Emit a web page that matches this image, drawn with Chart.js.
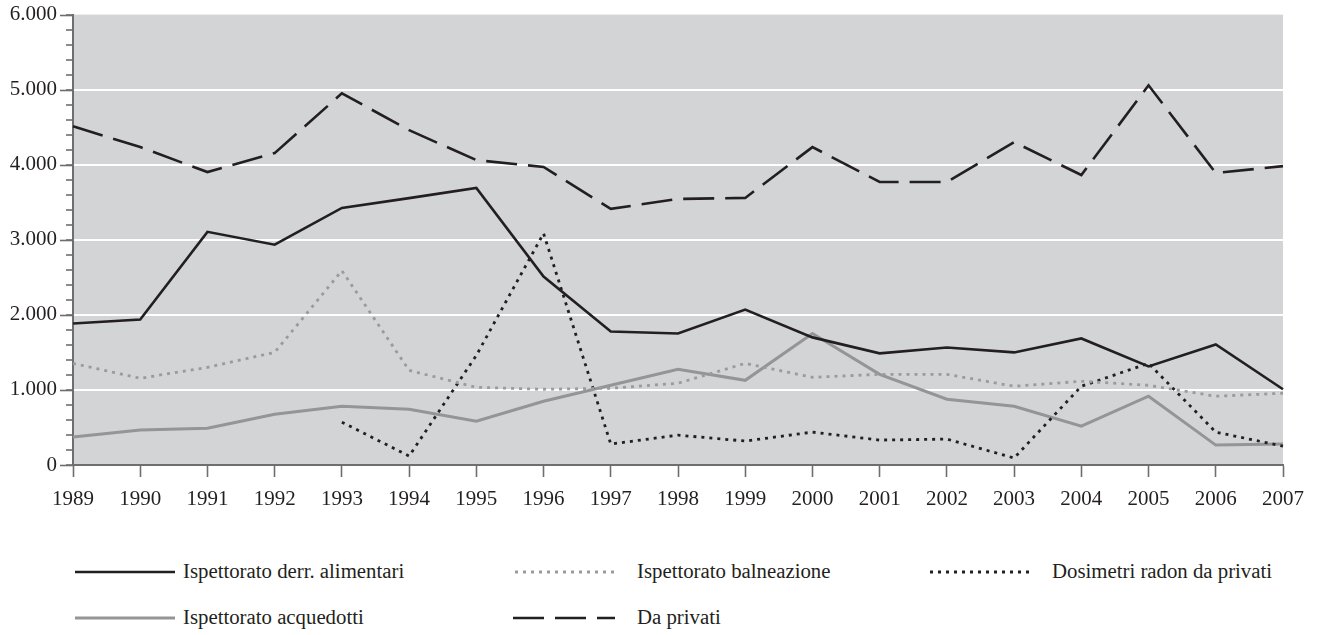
<!DOCTYPE html>
<html>
<head>
<meta charset="utf-8">
<script src="https://cdn.jsdelivr.net/npm/chart.js@4"></script>
<style>
  html, body { margin: 0; padding: 0; background: #ffffff; }
  #wrap { position: relative; width: 1321px; height: 635px; overflow: hidden; }
  #chartBox { position: absolute; left: 0; top: -7px; width: 1321px; height: 537px; }
  .lg { position: absolute; font-family: "Liberation Serif", "Times New Roman", serif; font-size: 20.8px; color: #231f20; white-space: nowrap; line-height: 22px; }
  .sw { position: absolute; }
</style>
</head>
<body>
<div id="wrap">
  <div id="chartBox"><canvas id="c" width="1321" height="537"></canvas></div>
  <div id="legend"></div>
</div>
<script>
const years = ['1989','1990','1991','1992','1993','1994','1995','1996','1997','1998','1999','2000','2001','2002','2003','2004','2005','2006','2007'];
const derrAlimentari = [1885,1938,3106,2934,3425,3555,3690,2510,1779,1752,2071,1700,1487,1566,1500,1686,1314,1606,1009];
const balneazione    = [1354,1155,1301,1500,2589,1261,1035,1009,1022,1089,1354,1168,1208,1208,1049,1115,1062,916,956];
const radon          = [null,null,null,null,571,119,1460,3085,279,398,319,438,332,345,93,1049,1354,438,252];
const acquedotti     = [372,465,491,677,783,743,584,850,1062,1274,1128,1752,1208,876,783,518,916,265,279];
const daPrivati      = [4513,4235,3903,4155,4951,4460,4062,3970,3412,3544,3558,4235,3770,3770,4301,3863,5058,3890,3982];
const yMax = 6000, yMinorStep = 200, yMajorStep = 1000;

const INK = '#231f20';
const GRAYLINE = '#959595';
const GRAYDOT = '#9b9b9b';
const AXIS = '#6e6e6e';
const FONT = '"Liberation Serif", "Times New Roman", serif';

const series = [
  { label: 'Ispettorato derr. alimentari', data: derrAlimentari, color: INK, width: 2.6, dash: [] },
  { label: 'Ispettorato balneazione', data: balneazione, color: GRAYDOT, width: 2.8, dash: [3, 5] },
  { label: 'Dosimetri radon da privati', data: radon, color: INK, width: 2.8, dash: [3, 5] },
  { label: 'Ispettorato acquedotti', data: acquedotti, color: GRAYLINE, width: 3, dash: [] },
  { label: 'Da privati', data: daPrivati, color: INK, width: 2.6, dash: [31, 11] }
];

const bgPlugin = {
  id: 'plotBg',
  beforeDraw(chart) {
    const a = chart.chartArea, ctx = chart.ctx;
    ctx.save();
    ctx.fillStyle = '#d3d4d6';
    ctx.fillRect(a.left, a.top, a.right - a.left, a.bottom - a.top);
    ctx.restore();
  },
  afterDraw(chart) {
    const y = chart.scales.y, ctx = chart.ctx, left = chart.chartArea.left;
    ctx.save();
    ctx.strokeStyle = AXIS;
    ctx.lineWidth = 1.6;
    for (let v = 0; v <= yMax; v += yMajorStep) {
      const py = Math.round(y.getPixelForValue(v)) + 0.5;
      ctx.beginPath();
      ctx.moveTo(left - 13, py);
      ctx.lineTo(left, py);
      ctx.stroke();
    }
    ctx.restore();
  }
};

new Chart(document.getElementById('c'), {
  type: 'line',
  data: {
    labels: years,
    datasets: series.map(s => ({
      label: s.label,
      data: s.data,
      borderColor: s.color,
      backgroundColor: s.color,
      borderWidth: s.width,
      borderDash: s.dash,
      borderCapStyle: 'butt',
      borderJoinStyle: 'miter',
      pointRadius: 0,
      tension: 0,
      fill: false
    }))
  },
  options: {
    responsive: false,
    animation: false,
    events: [],
    layout: { padding: { left: 0, right: 38, top: 6, bottom: 0 } },
    plugins: { legend: { display: false }, tooltip: { enabled: false } },
    scales: {
      x: {
        type: 'category',
        offset: false,
        grid: { drawOnChartArea: false, drawTicks: true, tickLength: 12, tickColor: AXIS, tickWidth: 1.6 },
        border: { display: true, color: AXIS, width: 2 },
        ticks: { autoSkip: false, maxRotation: 0, padding: 10, color: INK, font: { family: FONT, size: 21 } },
        afterFit(scale) { scale.height = 65; }
      },
      y: {
        min: 0, max: yMax,
        grid: {
          color: ctx => (ctx.tick && ctx.tick.value % yMajorStep === 0 && ctx.tick.value > 0 && ctx.tick.value < yMax) ? '#ffffff' : 'rgba(0,0,0,0)',
          lineWidth: 2,
          tickColor: AXIS, tickWidth: 1.6, tickLength: 7
        },
        border: { display: true, color: AXIS, width: 2 },
        ticks: {
          stepSize: yMinorStep, autoSkip: false, padding: 9, color: INK,
          font: { family: FONT, size: 21 },
          callback: v => v % yMajorStep === 0 ? (v === 0 ? '0' : (v / 1000).toFixed(3)) : ''
        },
        afterFit(scale) { scale.width = 73; }
      }
    }
  },
  plugins: [bgPlugin]
});

const legendSpec = [
  { s: 0, x0: 75, x1: 175, tx: 183, cy: 572 },
  { s: 1, x0: 515, x1: 615, tx: 637, cy: 572 },
  { s: 2, x0: 930, x1: 1030, tx: 1052, cy: 572 },
  { s: 3, x0: 75, x1: 175, tx: 183, cy: 618 },
  { s: 4, x0: 513, x1: 615, tx: 637, cy: 618 }
];
const lg = document.getElementById('legend');
legendSpec.forEach(l => {
  const s = series[l.s];
  const w = l.x1 - l.x0;
  const svg = document.createElementNS('http://www.w3.org/2000/svg', 'svg');
  svg.setAttribute('class', 'sw');
  svg.setAttribute('width', w); svg.setAttribute('height', 10);
  svg.style.left = l.x0 + 'px'; svg.style.top = (l.cy - 5) + 'px';
  const ln = document.createElementNS('http://www.w3.org/2000/svg', 'line');
  ln.setAttribute('x1', 0); ln.setAttribute('x2', w); ln.setAttribute('y1', 5); ln.setAttribute('y2', 5);
  ln.setAttribute('stroke', s.color); ln.setAttribute('stroke-width', s.width);
  if (s.dash.length) ln.setAttribute('stroke-dasharray', s.dash.join(' '));
  svg.appendChild(ln); lg.appendChild(svg);
  const t = document.createElement('div');
  t.className = 'lg'; t.textContent = s.label;
  t.style.left = l.tx + 'px'; t.style.top = (l.cy - 12) + 'px';
  lg.appendChild(t);
});
</script>
</body>
</html>
